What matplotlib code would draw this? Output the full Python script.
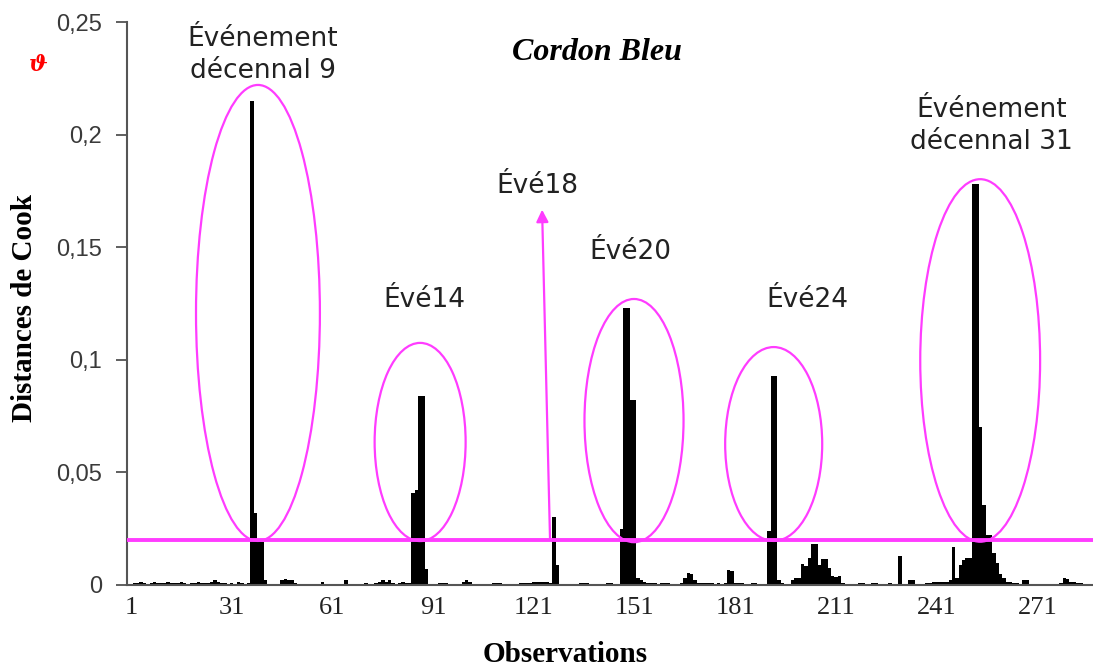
import numpy as np
import matplotlib
matplotlib.use('Agg')
import matplotlib.pyplot as plt
from matplotlib.patches import Ellipse

cook = [
    0.0005, 0.0008, 0.001, 0.0012, 0.0008, 0.0006, 0.001, 0.0012, 0.001, 0.0008,
    0.001, 0.0012, 0.001, 0.0008, 0.001, 0.0012, 0.001, 0.0006, 0.0008, 0.001,
    0.0012, 0.001, 0.0008, 0.001, 0.0015, 0.002, 0.0015, 0.001, 0.0008, 0.0006,
    0.0008, 0.0005, 0.0012, 0.0008, 0.0006, 0.0008, 0.215, 0.032, 0.020, 0.019,
    0.002, 0.0005, 0.0003, 0.0003, 0.0005, 0.002, 0.0025, 0.002, 0.002, 0.001,
    0.0003, 0.0003, 0.0005, 0.0003, 0.0003, 0.0003, 0.0005, 0.0015, 0.0005, 0.0003,
    0.0003, 0.0005, 0.0003, 0.0005, 0.002, 0.0005, 0.0003, 0.0003, 0.0005, 0.0003,
    0.001, 0.0005, 0.0003, 0.0008, 0.0015, 0.002, 0.0015, 0.002, 0.0008, 0.0005,
    0.001, 0.0015, 0.001, 0.0008, 0.041, 0.042, 0.084, 0.084, 0.007, 0.0005,
    0.0003, 0.0005, 0.0008, 0.001, 0.0008, 0.0005, 0.0003, 0.0005, 0.0005, 0.0015,
    0.002, 0.0015, 0.0005, 0.0003, 0.0003, 0.0003, 0.0003, 0.0005, 0.0008, 0.001,
    0.0008, 0.0005, 0.0003, 0.0003, 0.0003, 0.0005, 0.0008, 0.001, 0.001, 0.001,
    0.0012, 0.0015, 0.0015, 0.0012, 0.0015, 0.0008, 0.030, 0.009, 0.0003, 0.0003,
    0.0003, 0.0003, 0.0003, 0.0005, 0.0008, 0.0008, 0.001, 0.0005, 0.0003, 0.0003,
    0.0003, 0.0005, 0.0008, 0.0008, 0.0005, 0.0005, 0.025, 0.123, 0.123, 0.082,
    0.082, 0.003, 0.002, 0.0015, 0.001, 0.001, 0.0008, 0.0005, 0.0008, 0.001,
    0.0008, 0.0005, 0.0005, 0.0005, 0.0008, 0.003, 0.0055, 0.005, 0.002, 0.001,
    0.001, 0.0008, 0.0008, 0.0008, 0.0005, 0.0008, 0.0005, 0.001, 0.0065, 0.006,
    0.001, 0.0008, 0.0008, 0.0005, 0.0005, 0.0008, 0.0008, 0.0005, 0.0005, 0.0005,
    0.024, 0.093, 0.093, 0.002, 0.0008, 0.0005, 0.0005, 0.002, 0.003, 0.003,
    0.0095, 0.0085, 0.012, 0.018, 0.018, 0.009, 0.0115, 0.0115, 0.0075, 0.004,
    0.0035, 0.004, 0.001, 0.0005, 0.0005, 0.0005, 0.0003, 0.0008, 0.0008, 0.0005,
    0.0005, 0.0008, 0.0008, 0.0005, 0.0003, 0.0005, 0.0008, 0.0005, 0.0003, 0.013,
    0.0005, 0.0003, 0.002, 0.002, 0.0005, 0.0003, 0.0005, 0.0008, 0.001, 0.0015,
    0.0015, 0.0015, 0.0015, 0.0015, 0.002, 0.017, 0.003, 0.009, 0.011, 0.012,
    0.012, 0.178, 0.178, 0.070, 0.0355, 0.022, 0.022, 0.014, 0.0097, 0.005,
    0.003, 0.0015, 0.0015, 0.001, 0.001, 0.0005, 0.002, 0.002, 0.0005, 0.0003,
    0.0003, 0.0003, 0.0005, 0.0003, 0.0003, 0.0005, 0.0005, 0.0008, 0.003, 0.0025,
    0.0015, 0.0015, 0.001, 0.0008, 0.0005, 0.0003, 0.0003,
]
obs = np.arange(1, len(cook) + 1)

threshold = 0.02
xticks = [1, 31, 61, 91, 121, 151, 181, 211, 241, 271]
yticks = [0, 0.05, 0.1, 0.15, 0.2, 0.25]
ytick_labels = ['0', '0,05', '0,1', '0,15', '0,2', '0,25']

# events: (label, label x, label y, ellipse centre x, centre y, width, height)
events = [
    ('Événement\ndécennal 9', 40.3, 0.2353, 38.8, 0.1208, 36.9, 0.2025),
    ('Évé14', 88.3, 0.1266, 87.1, 0.0635, 27.1, 0.088),
    ('Évé20', 149.6, 0.1479, 150.8, 0.073, 29.5, 0.108),
    ('Évé24', 202.4, 0.1266, 192.4, 0.0626, 28.9, 0.0861),
    ('Événement\ndécennal 31', 257.2, 0.2036, 253.9, 0.0997, 35.7, 0.161),
]
pink = '#FF3CFF'

fig = plt.figure(figsize=(10.93, 6.69), dpi=100)
ax = fig.add_axes([0.1162, 0.1256, 0.8838, 0.8415])

ax.bar(obs, cook, width=1.0, color='black', linewidth=0)
ax.axhline(threshold, color=pink, linewidth=2.8, zorder=3)

for lab, tx, ty, cx, cy, w, h in events:
    ax.add_patch(Ellipse((cx, cy), w, h, fill=False, edgecolor=pink, linewidth=1.6, zorder=4))
    ax.text(tx, ty, lab, ha='center', va='center', fontsize=19, color='#222222',
            family='DejaVu Sans', linespacing=1.3)

# Évé18 with arrow
ax.annotate('', xy=(123.4, 0.1679), xytext=(125.8, 0.0195),
            arrowprops=dict(arrowstyle='-|>', color=pink, lw=1.6, mutation_scale=18))
ax.text(121.9, 0.1772, 'Évé18', ha='center', va='center', fontsize=19,
        color='#222222', family='DejaVu Sans')

ax.text(0.4865, 0.9467, 'Cordon Bleu', transform=ax.transAxes, ha='center', va='center',
        fontsize=23, fontweight='bold', style='italic', family='Liberation Serif')
fig.text(38 / 1093, 1 - 65 / 669, 'ϑ', color='red', fontsize=16, style='italic',
         fontweight='bold', family='DejaVu Serif', ha='center', va='center')

ax.set_xlim(-0.2, 287.5)
ax.set_ylim(0, 0.25)
ax.set_xticks(xticks)
ax.set_xticklabels([str(t) for t in xticks], family='Liberation Serif', fontsize=19, color='#222222')
ax.set_yticks(yticks)
ax.set_yticklabels(ytick_labels, family='Liberation Sans', fontsize=17, color='#3a3a3a')
ax.tick_params(axis='x', length=0, pad=9)
ax.tick_params(axis='y', direction='out', length=8, width=1.2, color='#444444', pad=10)

ax.spines['top'].set_visible(False)
ax.spines['right'].set_visible(False)
ax.spines['left'].set_color('#555555')
ax.spines['left'].set_linewidth(1.5)
ax.spines['bottom'].set_color('#555555')
ax.spines['bottom'].set_linewidth(1.5)

ax.set_xlabel('Observations', family='Liberation Serif', fontsize=21, fontweight='bold',
              va='center')
ax.xaxis.set_label_coords(0.4534, -0.124)
ax.set_ylabel('Distances de Cook', family='Liberation Serif', fontsize=21, fontweight='bold',
              va='center')
ax.yaxis.set_label_coords(-0.1056, 0.492)

fig.savefig('out.png', dpi=100)
